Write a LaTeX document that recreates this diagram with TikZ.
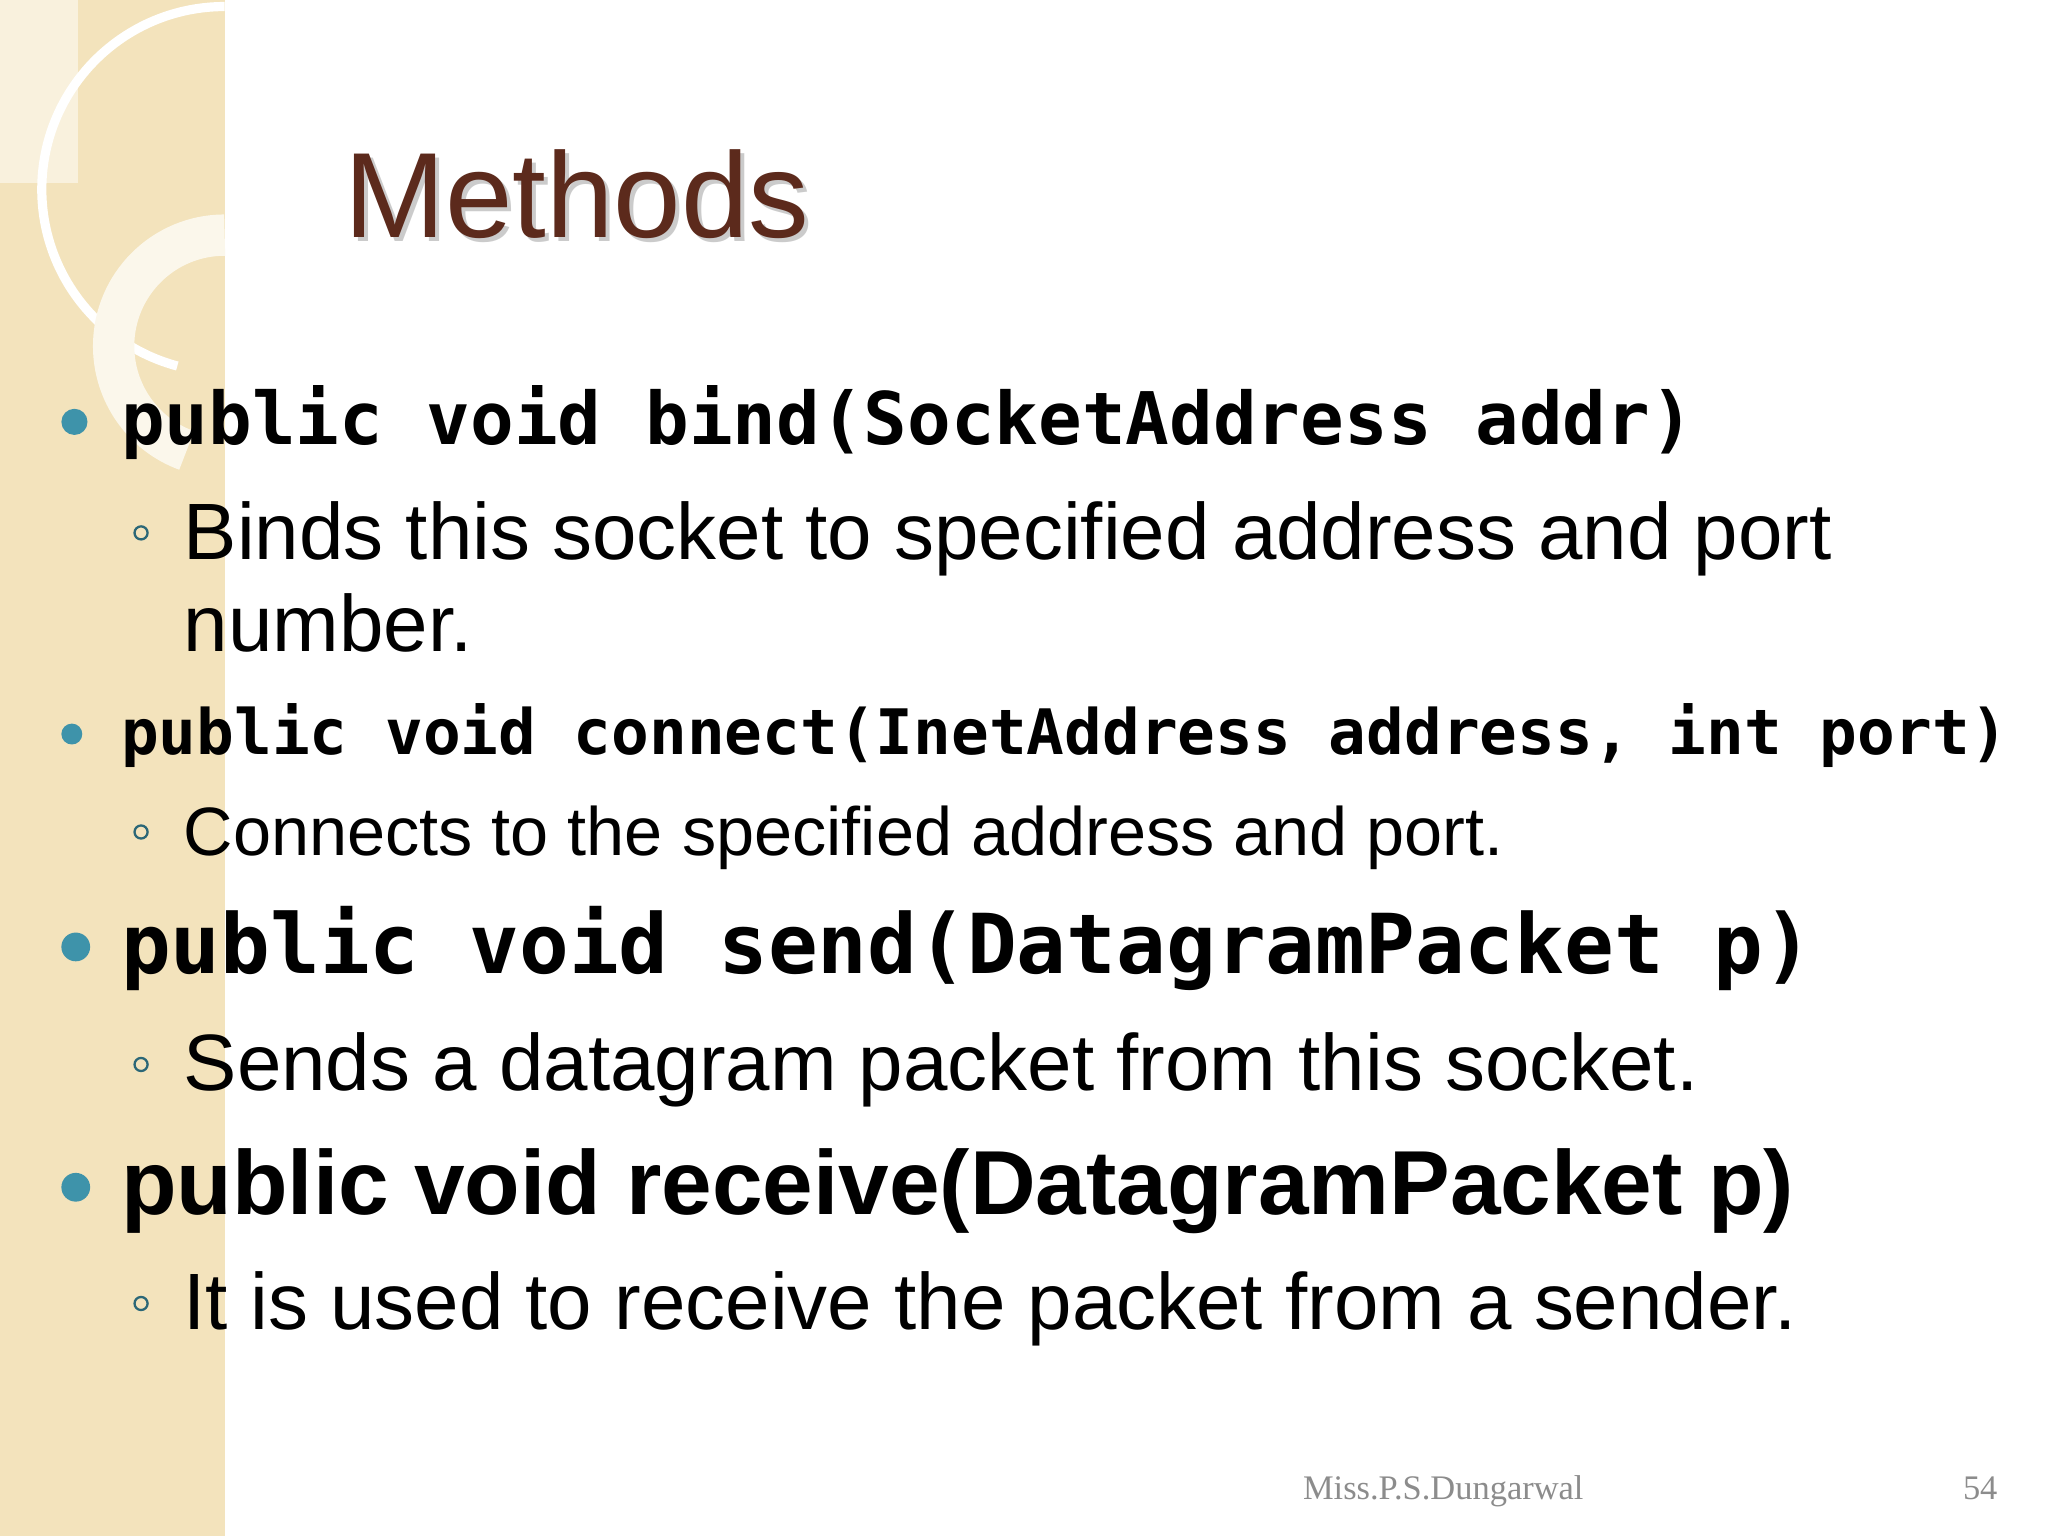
\documentclass[tikz,border=0pt]{standalone}
\usepackage{fontspec}
\setmainfont{Liberation Sans}
\newfontfamily\codefont{DejaVu Sans Mono}
\newfontfamily\footfont{Liberation Serif}
\usetikzlibrary{positioning}
\definecolor{strip}{HTML}{F3E3BC}
\definecolor{titlebrown}{HTML}{5C2A1C}
\definecolor{dotblue}{HTML}{3E93AA}
\tikzset{
    codeline/.style={anchor=base west, inner sep=0pt, font=\codefont\bfseries},
    textline/.style={anchor=base west, inner sep=0pt, font=\fontsize{17.4}{20}\selectfont},
    mainbullet/.style={circle, fill=dotblue, inner sep=0pt},
    subbullet/.style={circle, draw=dotblue!70!black, line width=0.5pt, inner sep=0pt, minimum size=0.1cm}
}
\begin{document}
\begin{tikzpicture}[x=0.01cm, y=-0.01cm]
\useasboundingbox (0,0) rectangle (1568,1176);
% background and side strip
\fill[white] (0,0) rectangle (1568,1176);
\fill[strip] (0,0) rectangle (172,1176);
\fill[white, opacity=0.5] (0,0) rectangle (60,140);
\draw[white, line width=2pt] (172,5) arc[start angle=270, end angle=105, radius=140];
\draw[white!70!strip, line width=9pt] (172,180) arc[start angle=270, end angle=110, radius=85];

% title
\node[anchor=base west, inner sep=0pt, font=\fontsize{26.4}{30}\selectfont, text=black!40, opacity=0.5] at (266,185) {Methods};
\node[anchor=base west, inner sep=0pt, font=\fontsize{26.4}{30}\selectfont, text=titlebrown] (title) at (263,182) {Methods};

% items
\node[mainbullet, minimum size=0.2cm] (b1) at (57,323) {};
\node[codeline, font=\codefont\bfseries\fontsize{15.8}{18}\selectfont] (c1) at (92,340) {public void bind(SocketAddress addr)};
\node[subbullet] (s1) at (108,408) {};
\node[textline] (t1) at (140,428) {Binds this socket to specified address and port};
\node[textline] (t1b) at (140,499) {number.};

\node[mainbullet, minimum size=0.16cm] (b2) at (55,562) {};
\node[codeline, font=\codefont\bfseries\fontsize{13.65}{16}\selectfont] (c2) at (92,578) {public void connect(InetAddress address, int port)};
\node[subbullet] (s2) at (108,637) {};
\node[textline, font=\fontsize{14.9}{18}\selectfont] (t2) at (140,655) {Connects to the specified address and port.};

\node[mainbullet, minimum size=0.22cm] (b3) at (58,725) {};
\node[codeline, font=\codefont\bfseries\fontsize{18}{22}\selectfont] (c3) at (92,745) {public void send(DatagramPacket p)};
\node[subbullet] (s3) at (108,815) {};
\node[textline] (t3) at (140,835) {Sends a datagram packet from this socket.};

\node[mainbullet, minimum size=0.22cm] (b4) at (58,909) {};
\node[textline, font=\fontsize{19.8}{24}\selectfont\bfseries] (c4) at (92,930) {public void receive(DatagramPacket p)};
\node[subbullet] (s4) at (108,998) {};
\node[textline] (t4) at (140,1018) {It is used to receive the packet from a sender.};

% footer
\node[anchor=base west, inner sep=0pt, font=\footfont\fontsize{7.5}{9}\selectfont, text=black!45] (foot) at (997,1148) {Miss.P.S.Dungarwal};
\node[anchor=base east, inner sep=0pt, font=\footfont\fontsize{7.5}{9}\selectfont, text=black!45] (page) at (1530,1148) {54};
\end{tikzpicture}
\end{document}
